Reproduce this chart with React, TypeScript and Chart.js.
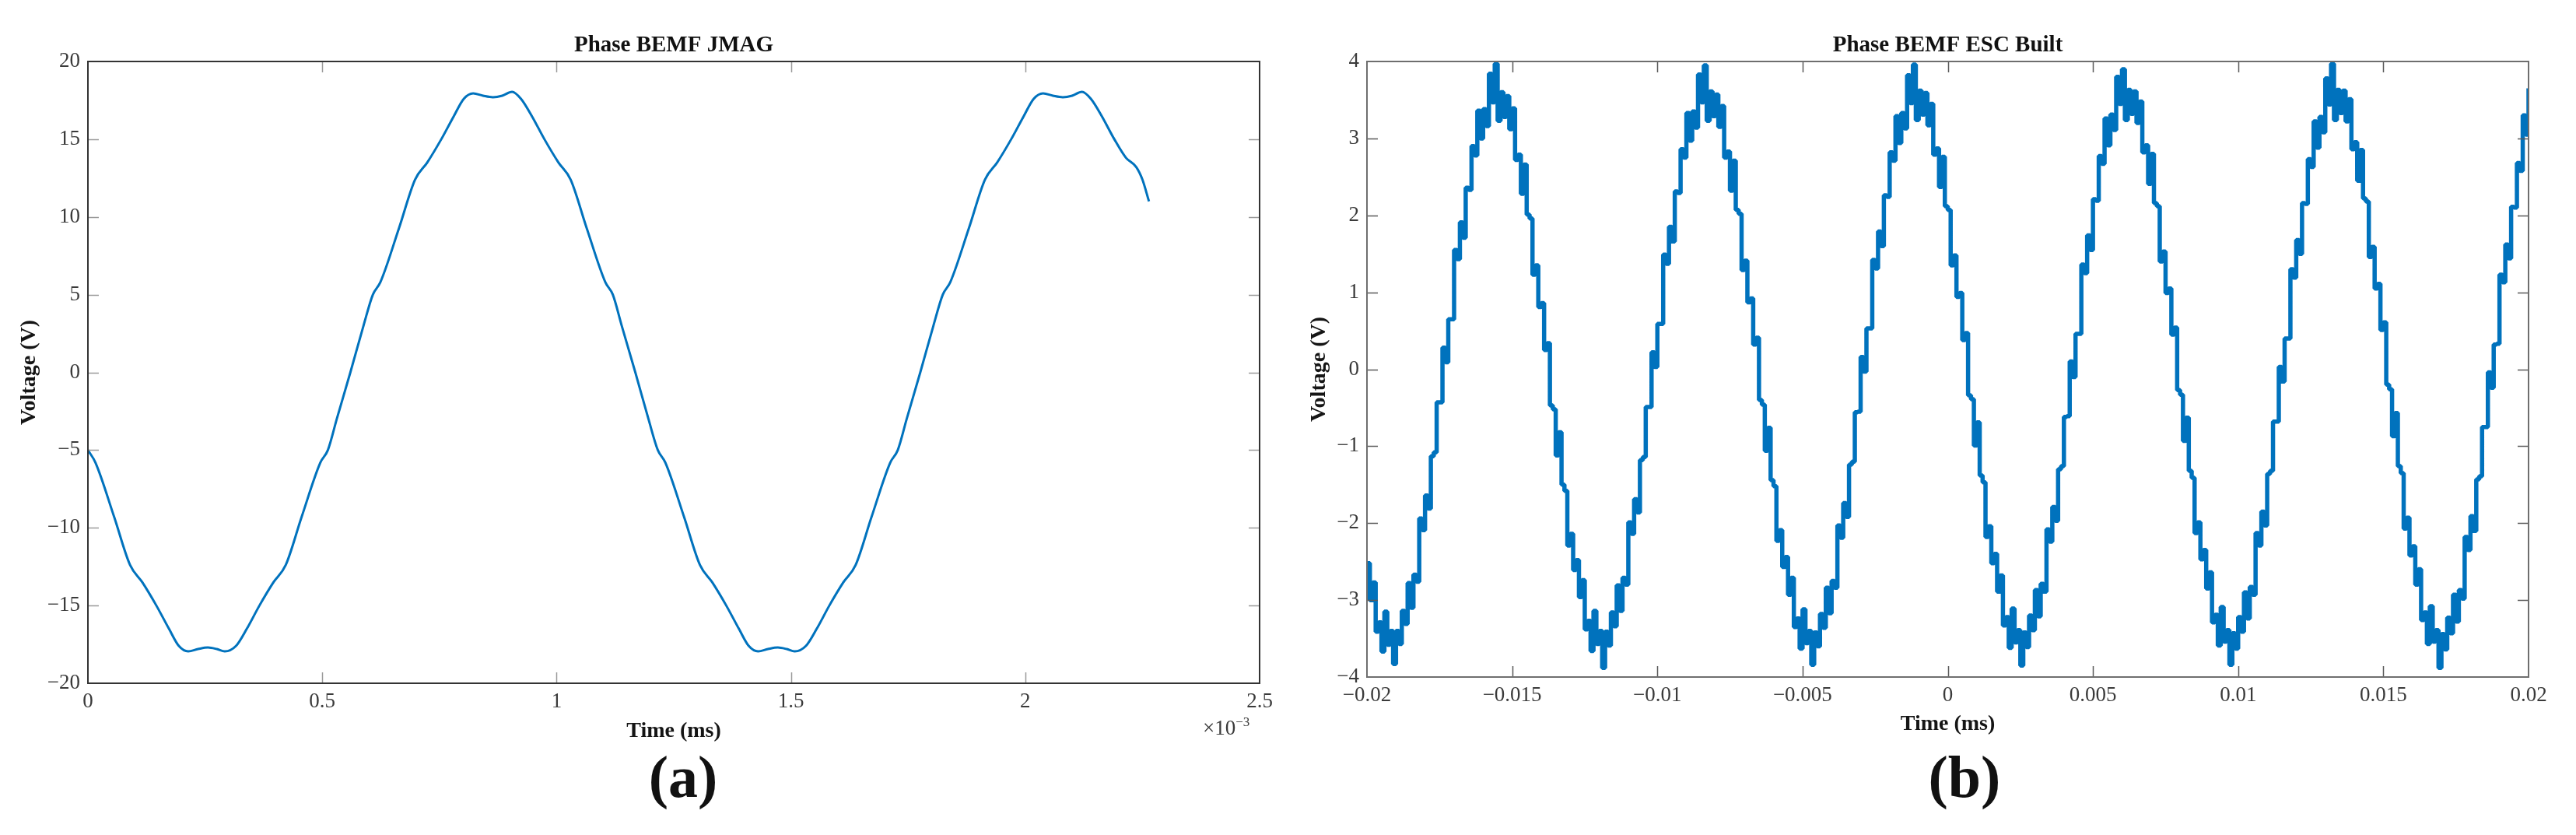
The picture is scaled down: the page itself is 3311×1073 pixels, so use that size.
import React, { useEffect, useRef } from "react";
import { Chart, registerables } from "chart.js";

Chart.register(...registerables);

const SERIF = "'Liberation Serif', 'Times New Roman', serif";
const BLUE = "#0072BD";

// ---------- (a) Phase BEMF JMAG : time in units of 1e-3 ----------
const jmagTime = [
  0.0, 0.016, 0.056, 0.09, 0.116, 0.146, 0.173, 0.194, 0.214, 0.235,
  0.256, 0.275, 0.292, 0.316, 0.339, 0.366, 0.396, 0.422, 0.456, 0.496,
  0.512, 0.531, 0.56, 0.588, 0.608, 0.624, 0.664, 0.698, 0.724, 0.754,
  0.781, 0.802, 0.822, 0.843, 0.864, 0.884, 0.905, 0.924, 0.947, 0.974,
  1.004, 1.03, 1.064, 1.104, 1.12, 1.139, 1.168, 1.196, 1.216, 1.232,
  1.272, 1.306, 1.332, 1.362, 1.389, 1.41, 1.43, 1.451, 1.472, 1.491,
  1.508, 1.532, 1.555, 1.582, 1.612, 1.638, 1.672, 1.712, 1.728, 1.747,
  1.776, 1.804, 1.824, 1.84, 1.88, 1.914, 1.94, 1.97, 1.997, 2.018,
  2.038, 2.059, 2.08, 2.1, 2.121, 2.14, 2.163, 2.19, 2.215, 2.237,
  2.25, 2.264,
];
const jmagVoltage = [
  -5.0, -5.8, -9.3, -12.4, -13.5, -15.0, -16.5, -17.6, -17.95, -17.8,
  -17.7, -17.8, -17.95, -17.6, -16.5, -15.0, -13.5, -12.4, -9.3, -5.8,
  -5.0, -3.0, 0, 3.0, 5.0, 5.8, 9.3, 12.4, 13.5, 15.0,
  16.5, 17.6, 17.95, 17.8, 17.7, 17.8, 18.05, 17.6, 16.5, 15.0,
  13.5, 12.4, 9.3, 5.8, 5.0, 3.0, 0, -3.0, -5.0, -5.8,
  -9.3, -12.4, -13.5, -15.0, -16.5, -17.6, -17.95, -17.8, -17.7, -17.8,
  -17.95, -17.6, -16.5, -15.0, -13.5, -12.4, -9.3, -5.8, -5.0, -3.0,
  0, 3.0, 5.0, 5.8, 9.3, 12.4, 13.5, 15.0, 16.5, 17.6,
  17.95, 17.8, 17.7, 17.8, 18.05, 17.6, 16.5, 15.0, 13.8, 13.2,
  12.4, 11.0,
];
const jmagXTicks = [0, 0.5, 1, 1.5, 2, 2.5];
const jmagYTicks = [-20, -15, -10, -5, 0, 5, 10, 15, 20];

// ---------- (b) Phase BEMF ESC Built : sampled every 0.1 ms ----------
const escTimeStart = -0.02;
const escTimeStep = 0.0001;
const escVoltage = [
  -2.52, -3.0, -2.77, -3.41, -3.29, -3.67, -3.15, -3.58, -3.4, -3.83,
  -3.4, -3.57, -3.14, -3.31, -2.78, -3.1, -2.67, -2.76, -1.94, -2.09,
  -1.64, -1.81, -1.13, -1.08, -0.43, -0.43, 0.28, 0.09, 0.65, 0.65,
  1.55, 1.43, 1.91, 1.71, 2.36, 2.33, 2.9, 2.78, 3.36, 3.0,
  3.38, 3.16, 3.84, 3.47, 3.97, 3.23, 3.6, 3.28, 3.55, 3.12,
  3.39, 2.72, 2.79, 2.28, 2.66, 2.01, 1.96, 1.23, 1.35, 0.81,
  0.86, 0.25, 0.34, -0.47, -0.52, -1.12, -0.82, -1.5, -1.58, -2.29,
  -2.14, -2.61, -2.48, -2.96, -2.74, -3.38, -3.27, -3.66, -3.14, -3.57,
  -3.4, -3.88, -3.41, -3.59, -3.16, -3.34, -2.81, -3.14, -2.71, -2.8,
  -1.99, -2.14, -1.69, -1.86, -1.18, -1.14, -0.49, -0.49, 0.22, 0.03,
  0.59, 0.59, 1.49, 1.37, 1.85, 1.66, 2.31, 2.29, 2.86, 2.75,
  3.33, 2.97, 3.35, 3.14, 3.83, 3.47, 3.95, 3.23, 3.61, 3.29,
  3.57, 3.15, 3.42, 2.75, 2.83, 2.32, 2.71, 2.07, 2.02, 1.29,
  1.41, 0.87, 0.92, 0.32, 0.41, -0.4, -0.46, -1.06, -0.76, -1.44,
  -1.52, -2.23, -2.09, -2.57, -2.44, -2.93, -2.71, -3.35, -3.24, -3.63,
  -3.12, -3.56, -3.4, -3.84, -3.42, -3.6, -3.18, -3.36, -2.84, -3.17,
  -2.75, -2.84, -2.03, -2.19, -1.74, -1.92, -1.24, -1.2, -0.56, -0.55,
  0.16, -0.03, 0.53, 0.53, 1.42, 1.31, 1.79, 1.6, 2.26, 2.24,
  2.82, 2.71, 3.29, 2.94, 3.33, 3.13, 3.82, 3.46, 3.96, 3.24,
  3.62, 3.31, 3.59, 3.17, 3.45, 2.79, 2.87, 2.37, 2.76, 2.12,
  2.07, 1.35, 1.48, 0.94, 0.99, 0.38, 0.47, -0.34, -0.39, -0.99,
  -0.69, -1.38, -1.47, -2.18, -2.04, -2.52, -2.4, -2.89, -2.68, -3.33,
  -3.22, -3.62, -3.11, -3.55, -3.39, -3.85, -3.42, -3.61, -3.2, -3.39,
  -2.87, -3.21, -2.79, -2.89, -2.08, -2.24, -1.79, -1.97, -1.3, -1.26,
  -0.62, -0.61, 0.1, -0.1, 0.46, 0.46, 1.36, 1.25, 1.74, 1.55,
  2.21, 2.19, 2.77, 2.67, 3.26, 2.91, 3.31, 3.11, 3.8, 3.45,
  3.9, 3.24, 3.63, 3.32, 3.61, 3.2, 3.48, 2.82, 2.91, 2.41,
  2.8, 2.16, 2.12, 1.4, 1.53, 0.99, 1.05, 0.45, 0.54, -0.27,
  -0.33, -0.93, -0.63, -1.32, -1.41, -2.13, -1.99, -2.47, -2.35, -2.85,
  -2.64, -3.29, -3.19, -3.59, -3.09, -3.54, -3.39, -3.84, -3.43, -3.63,
  -3.22, -3.41, -2.9, -3.24, -2.83, -2.93, -2.13, -2.29, -1.85, -2.03,
  -1.36, -1.32, -0.68, -0.68, 0.03, -0.16, 0.4, 0.4, 1.3, 1.19,
  1.68, 1.5, 2.16, 2.15, 2.73, 2.63, 3.22, 2.88, 3.28, 3.08,
  3.78, 3.44, 3.97, 3.24, 3.63, 3.33, 3.62, 3.22, 3.51, 2.86,
  2.95, 2.45, 2.85, 2.22, 2.18, 1.46, 1.59, 1.05, 1.11, 0.51,
  0.61, -0.2, -0.26, -0.87, -0.57, -1.26, -1.35, -2.07, -1.93, -2.42,
  -2.3, -2.8, -2.6, -3.26, -3.16, -3.57, -3.08, -3.54, -3.39, -3.88,
  -3.44, -3.64, -3.23, -3.43, -2.93, -3.28, -2.87, -2.98, -2.18, -2.35,
  -1.91, -2.1, -1.43, -1.39, -0.75, -0.75, -0.04, -0.24, 0.32, 0.33,
  1.23, 1.13, 1.62, 1.44, 2.11, 2.1, 2.68, 2.58, 3.3, 3.05,
  3.65,
];
const escXTicks = [-0.02, -0.015, -0.01, -0.005, 0, 0.005, 0.01, 0.015, 0.02];
const escYTicks = [-4, -3, -2, -1, 0, 1, 2, 3, 4];

function fmt(v: number): string {
  const r = Math.round(v * 100000) / 100000;
  return String(r).replace("-", "\u2212");
}

const framePlugin = {
  id: "matlabFrame",
  afterDatasetsDraw(chart: any, _args: any, opts: any) {
    const { ctx, chartArea } = chart;
    const { left, right, top, bottom } = chartArea;
    const xs = chart.scales.x;
    const ys = chart.scales.y;
    const L = 14;
    ctx.save();
    ctx.strokeStyle = opts.tickColor;
    ctx.lineWidth = 1.5;
    ctx.beginPath();
    for (const t of xs.ticks) {
      const px = Math.round(xs.getPixelForValue(t.value)) + 0.5;
      if (px <= left + 2 || px >= right - 2) continue;
      ctx.moveTo(px, bottom);
      ctx.lineTo(px, bottom - L);
      ctx.moveTo(px, top);
      ctx.lineTo(px, top + L);
    }
    for (const t of ys.ticks) {
      const py = Math.round(ys.getPixelForValue(t.value)) + 0.5;
      if (py <= top + 2 || py >= bottom - 2) continue;
      ctx.moveTo(left, py);
      ctx.lineTo(left + L, py);
      ctx.moveTo(right, py);
      ctx.lineTo(right - L, py);
    }
    ctx.stroke();
    ctx.strokeStyle = opts.frameColor;
    ctx.lineWidth = 2;
    ctx.strokeRect(left, top, right - left, bottom - top);
    ctx.restore();
  },
};

type Cfg = {
  title: string;
  points: { x: number; y: number }[];
  stepped: boolean;
  xMin: number;
  xMax: number;
  yMin: number;
  yMax: number;
  xTicks: number[];
  yTicks: number[];
  sideWidth: number;
  xAxisHeight: number;
  yTitlePad: number;
  xTitlePad: number;
  frameColor: string;
  tickColor: string;
};

function buildConfig(c: Cfg): any {
  const tickFont = { family: SERIF, size: 27 };
  const labelFont = { family: SERIF, size: 28, weight: "bold" as const };
  return {
    type: "line",
    data: {
      datasets: [
        {
          data: c.points,
          xAxisID: "x",
          yAxisID: "y",
          borderColor: BLUE,
          borderWidth: c.stepped ? 5.5 : 3,
          borderJoinStyle: c.stepped ? "bevel" : "round",
          pointRadius: 0,
          fill: false,
          stepped: c.stepped,
          cubicInterpolationMode: c.stepped ? "default" : "monotone",
          tension: 0,
        },
      ],
    },
    plugins: [framePlugin],
    options: {
      responsive: false,
      animation: false,
      events: [],
      layout: { padding: 0 },
      plugins: {
        legend: { display: false },
        tooltip: { enabled: false },
        title: {
          display: true,
          text: c.title,
          color: "#111111",
          font: { family: SERIF, size: 29, weight: "bold" },
          padding: { top: 41.4, bottom: 2.8 },
        },
        matlabFrame: { frameColor: c.frameColor, tickColor: c.tickColor },
      },
      scales: {
        x: {
          type: "linear",
          position: "bottom",
          min: c.xMin,
          max: c.xMax,
          afterBuildTicks: (s: any) => {
            s.ticks = c.xTicks.map((v) => ({ value: v }));
          },
          afterFit: (s: any) => {
            s.height = c.xAxisHeight;
          },
          grid: { display: false, drawTicks: false },
          border: { display: false },
          ticks: {
            autoSkip: false,
            maxRotation: 0,
            padding: 7.8,
            color: "#3a3a3a",
            font: tickFont,
            callback: (v: any) => fmt(Number(v)),
          },
          title: {
            display: true,
            text: "Time (ms)",
            color: "#151515",
            font: labelFont,
            padding: { top: 0, bottom: c.xTitlePad },
          },
        },
        y: {
          type: "linear",
          position: "left",
          min: c.yMin,
          max: c.yMax,
          afterBuildTicks: (s: any) => {
            s.ticks = c.yTicks.map((v) => ({ value: v }));
          },
          afterFit: (s: any) => {
            s.width = c.sideWidth;
          },
          grid: { display: false, drawTicks: false },
          border: { display: false },
          ticks: {
            autoSkip: false,
            padding: 10,
            color: "#3a3a3a",
            font: tickFont,
            callback: (v: any) => fmt(Number(v)),
          },
          title: {
            display: true,
            text: "Voltage (V)",
            color: "#151515",
            font: labelFont,
            padding: { top: c.yTitlePad, bottom: 0 },
          },
        },
        yR: {
          type: "linear",
          position: "right",
          display: true,
          afterFit: (s: any) => {
            s.width = c.sideWidth;
          },
          grid: { display: false, drawTicks: false },
          border: { display: false },
          ticks: { display: false },
          title: { display: false },
        },
      },
    },
  };
}

function ChartCanvas(props: { cfg: Cfg; left: number; width: number }) {
  const ref = useRef<HTMLCanvasElement | null>(null);
  useEffect(() => {
    if (!ref.current) return;
    const chart = new Chart(ref.current, buildConfig(props.cfg));
    return () => chart.destroy();
  }, []);
  return (
    <canvas
      ref={ref}
      width={props.width}
      height={1073}
      style={{ position: "absolute", left: props.left, top: 0, width: props.width, height: 1073 }}
    />
  );
}

const jmagPoints = jmagTime.map((t, i) => ({ x: t, y: jmagVoltage[i] }));
const escPoints = escVoltage.map((v, i) => ({ x: escTimeStart + i * escTimeStep, y: v }));

const leftCfg: Cfg = {
  title: "Phase BEMF JMAG",
  points: jmagPoints,
  stepped: false,
  xMin: 0,
  xMax: 2.5,
  yMin: -20,
  yMax: 20,
  xTicks: jmagXTicks,
  yTicks: jmagYTicks,
  sideWidth: 113,
  xAxisHeight: 195,
  yTitlePad: 21.2,
  xTitlePad: 116.2,
  frameColor: "#333333",
  tickColor: "#9a9a9a",
};

const rightCfg: Cfg = {
  title: "Phase BEMF ESC Built",
  points: escPoints,
  stepped: true,
  xMin: -0.02,
  xMax: 0.02,
  yMin: -4,
  yMax: 4,
  xTicks: escXTicks,
  yTicks: escYTicks,
  sideWidth: 87,
  xAxisHeight: 203,
  yTitlePad: 9.2,
  xTitlePad: 125,
  frameColor: "#6e6e6e",
  tickColor: "#5a5a5a",
};

export default function App() {
  const panelLabel: React.CSSProperties = {
    position: "absolute",
    top: 960,
    width: 200,
    textAlign: "center",
    fontFamily: SERIF,
    fontWeight: "bold",
    fontSize: 76,
    lineHeight: "76px",
    color: "#111",
  };
  return (
    <div
      style={{
        position: "fixed",
        left: 0,
        top: 0,
        width: 3311,
        height: 1073,
        overflow: "hidden",
        background: "#ffffff",
      }}
    >
      <ChartCanvas cfg={leftCfg} left={0} width={1732} />
      <ChartCanvas cfg={rightCfg} left={1670} width={1667} />
      <div
        style={{
          position: "absolute",
          left: 1546,
          top: 922,
          fontFamily: SERIF,
          fontSize: 27,
          lineHeight: "27px",
          color: "#3a3a3a",
          whiteSpace: "nowrap",
        }}
      >
        ×10
        <span style={{ position: "relative", top: -11, fontSize: 17 }}>{"\u22123"}</span>
      </div>
      <div style={{ ...panelLabel, left: 778 }}>(a)</div>
      <div style={{ ...panelLabel, left: 2425 }}>(b)</div>
    </div>
  );
}
